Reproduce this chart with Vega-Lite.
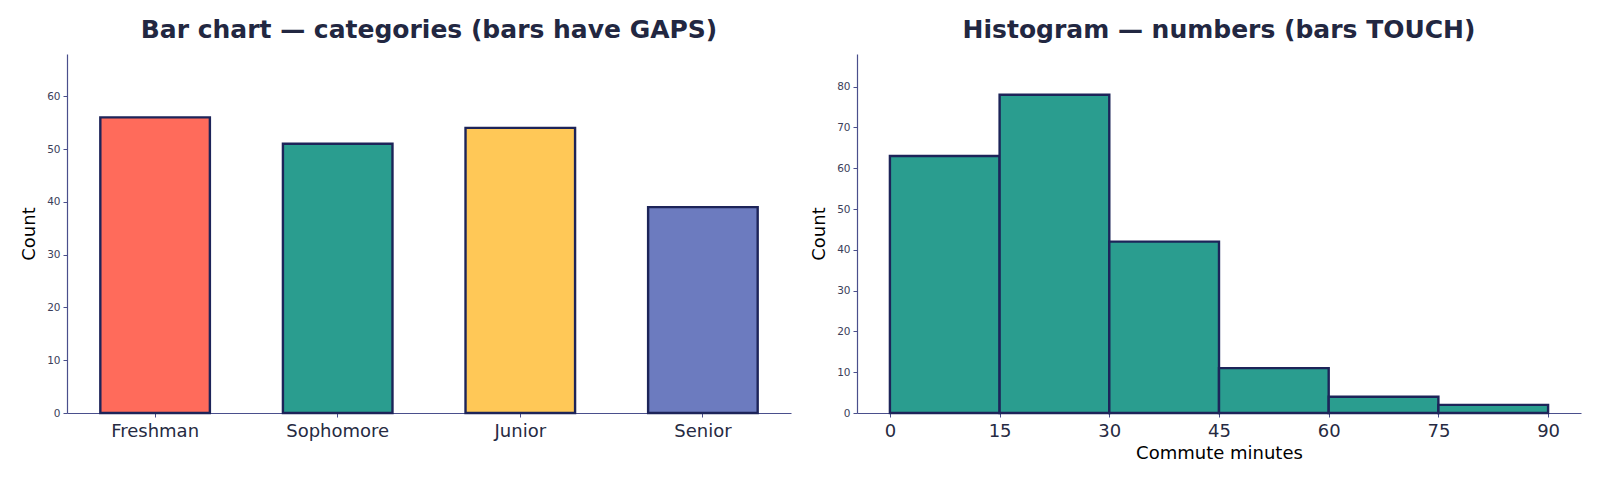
{
  "$schema": "https://vega.github.io/schema/vega-lite/v6.json",
  "padding": {"left": 20, "top": 18, "right": 10, "bottom": 0},
  "spacing": 19,
  "config": {
    "font": "DejaVu Sans",
    "view": {"stroke": null},
    "axis": {
      "grid": false,
      "domainColor": "#4a4f8c",
      "domainWidth": 1.2,
      "tickColor": "#4a4f8c",
      "tickSize": 4,
      "tickWidth": 1,
      "labelFont": "DejaVu Sans",
      "titleFont": "DejaVu Sans",
      "titleFontWeight": "normal",
      "titleColor": "#000000",
      "titleFontSize": 18
    },
    "title": {
      "font": "DejaVu Sans",
      "fontSize": 25,
      "fontWeight": "bold",
      "color": "#222741",
      "anchor": "middle",
      "frame": "group",
      "baseline": "alphabetic",
      "offset": 11
    }
  },
  "hconcat": [
    {
      "title": "Bar chart — categories (bars have GAPS)",
      "width": 724,
      "height": 359,
      "data": {
        "values": [
          {"year": "Freshman", "count": 56},
          {"year": "Sophomore", "count": 51},
          {"year": "Junior", "count": 54},
          {"year": "Senior", "count": 39}
        ]
      },
      "mark": {"type": "bar", "stroke": "#1d2459", "strokeWidth": 2.4, "strokeJoin": "miter"},
      "encoding": {
        "x": {
          "field": "year",
          "type": "nominal",
          "sort": null,
          "scale": {"paddingInner": 0.4, "paddingOuter": 0.1825},
          "axis": {
            "title": null,
            "labelAngle": 0,
            "labelFontSize": 18,
            "labelColor": "#262a42",
            "labelPadding": 5
          }
        },
        "y": {
          "field": "count",
          "type": "quantitative",
          "scale": {"domain": [0, 68], "nice": false},
          "axis": {
            "title": "Count",
            "values": [0, 10, 20, 30, 40, 50, 60],
            "labelFontSize": 10.5,
            "labelColor": "#3b3e5a",
            "labelPadding": 3,
            "titlePadding": 8
          }
        },
        "color": {
          "field": "year",
          "type": "nominal",
          "scale": {
            "domain": ["Freshman", "Sophomore", "Junior", "Senior"],
            "range": ["#ff6b5b", "#2a9d8f", "#ffc857", "#6c7bbf"]
          },
          "legend": null
        }
      }
    },
    {
      "title": "Histogram — numbers (bars TOUCH)",
      "width": 724,
      "height": 359,
      "data": {
        "values": [
          {"bin_start": 0, "bin_end": 15, "count": 63},
          {"bin_start": 15, "bin_end": 30, "count": 78},
          {"bin_start": 30, "bin_end": 45, "count": 42},
          {"bin_start": 45, "bin_end": 60, "count": 11},
          {"bin_start": 60, "bin_end": 75, "count": 4},
          {"bin_start": 75, "bin_end": 90, "count": 2}
        ]
      },
      "mark": {"type": "bar", "color": "#2a9d8f", "stroke": "#1d2459", "strokeWidth": 2.4, "strokeJoin": "miter"},
      "encoding": {
        "x": {
          "field": "bin_start",
          "type": "quantitative",
          "scale": {"domain": [-4.5, 94.5], "nice": false, "zero": false},
          "axis": {
            "title": "Commute minutes",
            "values": [0, 15, 30, 45, 60, 75, 90],
            "labelFontSize": 18,
            "labelColor": "#262a42",
            "labelPadding": 5,
            "titlePadding": 4
          }
        },
        "x2": {"field": "bin_end"},
        "y": {
          "field": "count",
          "type": "quantitative",
          "scale": {"domain": [0, 88], "nice": false},
          "axis": {
            "title": "Count",
            "values": [0, 10, 20, 30, 40, 50, 60, 70, 80],
            "labelFontSize": 10.5,
            "labelColor": "#3b3e5a",
            "labelPadding": 3,
            "titlePadding": 8
          }
        },
        "y2": {"datum": 0}
      }
    }
  ]
}
